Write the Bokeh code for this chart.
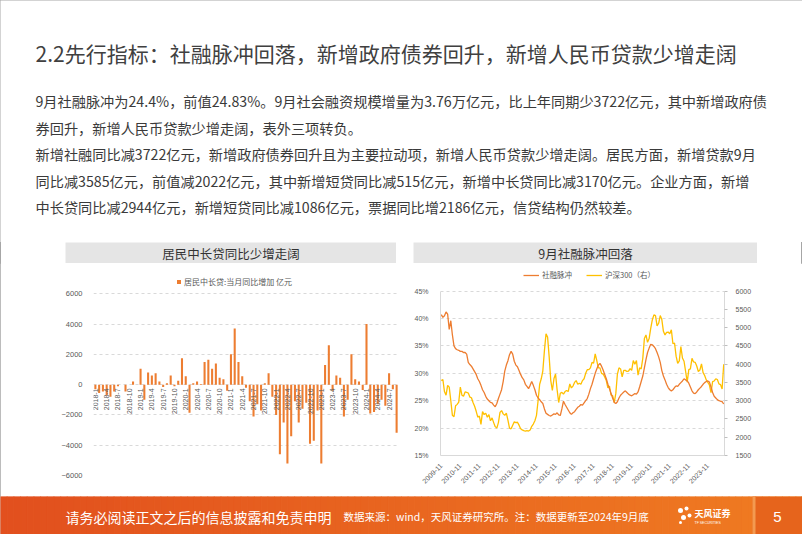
import numpy as np
from math import pi
from bokeh.plotting import figure
from bokeh.models import (Range1d, LinearAxis, FixedTicker, PrintfTickFormatter,
                          Legend, LegendItem, Spacer)
from bokeh.layouts import column, row
from bokeh.embed import file_html
from bokeh.resources import INLINE
from bokeh.core.properties import value

CJK = "Noto Sans CJK SC"
NUM = "Liberation Sans"
TXT = "#404040"
AX = "#595959"

# ---------------- texts ----------------
slide_title = "2.2先行指标：社融脉冲回落，新增政府债券回升，新增人民币贷款少增走阔"
body_lines = [
    "9月社融脉冲为24.4%，前值24.83%。9月社会融资规模增量为3.76万亿元，比上年同期少3722亿元，其中新增政府债",
    "券回升，新增人民币贷款少增走阔，表外三项转负。",
    "新增社融同比减3722亿元，新增政府债券回升且为主要拉动项，新增人民币贷款少增走阔。居民方面，新增贷款9月",
    "同比减3585亿元，前值减2022亿元，其中新增短贷同比减515亿元，新增中长贷同比减3170亿元。企业方面，新增",
    "中长贷同比减2944亿元，新增短贷同比减1086亿元，票据同比增2186亿元，信贷结构仍然较差。",
]
footer_left = "请务必阅读正文之后的信息披露和免责申明"
footer_src = "数据来源：wind，天风证券研究所。注：数据更新至2024年9月底"
logo_text = "天风证券"
logo_sub = "TF SECURITIES"
page_no = "5"

# ---------------- chart 1 data ----------------
chart1_title = "居民中长贷同比少增走阔"
chart1_series = "居民中长贷:当月同比增加 亿元"
loan_yoy = [
    # 2018
    -300, -550, -450, -700, -800, -450, -100, 0, -450, 0, 200, 0,
    # 2019
    1050, -1000, 800, 600, 750, 200, -150, 100, 600, -100, 250, 1750,
    # 2020
    550, -1850, 100, 200, 50, 1500, 1650, 1050, 1400, 450, 350, -400,
    # 2021
    2000, 3700, 1500, 550, -200, -1100, -2100, -1300, -1700, 100, 750, -800,
    # 2022
    -2000, -4600, -2500, -5200, -3400, -1100, -2500, -1600, -1200, -3900, -3700, -1700,
    # 2023
    -5200, 1300, 2600, -400, 600, 450, -2100, -1000, 2000, 350, 200, -350,
    # 2024
    4000, -1900, -1800, -1300, -1000, -1400, 750, -300, -3170,
]
loan_months = [f"{y}-{m}" for y in range(2018, 2025) for m in range(1, 13)][:len(loan_yoy)]
loan_ticks = [-6000, -4000, -2000, 0, 2000, 4000, 6000]

# ---------------- chart 2 data ----------------
chart2_title = "9月社融脉冲回落"
pulse_name = "社融脉冲"
hs_name = "沪深300（右）"
pulse = [
    40.7, 40.2, 40.5, 41.2, 40.8, 38.0, 39.6, 37.0, 35.0, 34.5,
    34.3, 34.2, 34.0, 34.0, 33.8, 33.8, 33.5, 32.0, 31.6, 31.3,
    30.8, 30.3, 29.8, 29.0, 28.5, 27.8, 27.0, 26.5, 25.8, 25.3,
    25.0, 24.7, 24.6, 24.2, 23.9, 24.5, 25.4, 26.2, 27.0, 28.5,
    30.4, 31.5, 32.3, 33.4, 34.0, 33.5, 32.2, 31.5, 31.2, 30.5,
    29.8, 29.2, 28.8, 28.0, 27.6, 27.2, 27.8, 28.5, 27.8, 27.0,
    26.0, 25.5, 25.2, 24.8, 24.5, 23.5, 22.7, 22.5, 22.3, 22.2,
    22.4, 22.6, 22.5, 22.8, 22.4, 22.3, 23.5, 24.9, 24.3, 23.8,
    23.3, 22.8, 22.5, 22.8, 23.0, 23.4, 23.8, 24.0, 24.3, 24.2,
    24.6, 25.0, 25.4, 26.2, 27.2, 28.0, 29.0, 30.0, 30.8, 31.5,
    31.8, 31.3, 30.6, 29.8, 29.0, 28.0, 27.2, 26.3, 25.5, 24.7,
    24.5, 24.8, 25.5, 26.0, 26.3, 26.6, 26.8, 26.5, 26.2, 26.0,
    25.9, 26.1, 26.3, 26.2, 26.6, 27.5, 28.5, 29.5, 31.0, 32.5,
    33.8, 34.6, 35.3, 35.2, 34.9, 34.5, 33.8, 33.0, 32.0, 30.5,
    29.5, 28.8, 28.0, 27.4, 27.0, 26.8, 27.0, 27.4, 27.7, 27.6,
    28.0, 28.3, 28.6, 29.0, 28.8, 28.6, 28.2, 27.5, 26.8, 26.4,
    26.3, 26.6, 27.0, 27.3, 27.6, 28.0, 28.3, 28.5, 28.6, 28.4,
    27.5, 26.5, 25.8, 25.5, 25.2, 25.0, 24.9, 24.83, 24.4,
]
hs300 = [
    3550, 3580, 3250, 3150, 3420, 3370, 3000, 2600, 2560, 2860,
    2900, 2960, 3370, 3150, 3120, 3240, 3230, 3210, 3100, 3080,
    2950, 2850, 2710, 2550, 2580, 2350, 2700, 2620, 2660, 2550,
    2620, 2450, 2530, 2400, 2290, 2250, 2400, 2680, 2730, 2640,
    2600, 2660, 2470, 2250, 2230, 2330, 2420, 2400, 2410, 2330,
    2230, 2200, 2180, 2170, 2180, 2170, 2200, 2300, 2360, 2450,
    2600, 3000, 3450, 3600, 3820, 4370, 4830, 4740, 4200, 3550,
    3280, 3600, 3730, 3300, 2950, 3200, 3230, 3180, 3250, 3280,
    3250, 3460, 3350, 3400, 3500, 3550, 3450, 3480, 3450, 3550,
    3600, 3750, 3850, 3850, 3900, 4050, 4030, 4280, 4100, 3900,
    3900, 3750, 3730, 3650, 3550, 3350, 3400, 3150, 3140, 2950,
    3200, 3730, 3900, 3870, 3650, 3830, 3830, 3800, 3810, 3880,
    3830, 4100, 4000, 4100, 3700, 3900, 3870, 4160, 4700, 4800,
    4600, 4700, 4980, 5210, 5350, 5330, 5050, 5120, 5330, 5220,
    4900, 4800, 4870, 4880, 4830, 4940, 4560, 4580, 4220, 4020,
    4090, 4480, 4170, 4080, 3800, 3510, 3850, 3870, 4160, 4060,
    4050, 3950, 3800, 3840, 4010, 3770, 3690, 3570, 3500, 3430,
    3220, 3520, 3540, 3600, 3580, 3460, 3440, 3320, 4000,
]
pulse_months = [f"{2009 + (10 + i) // 12}-{(10 + i) % 12 + 1}" for i in range(len(pulse))]
pct_ticks = [15, 20, 25, 30, 35, 40, 45]
hs_ticks = [1500, 2000, 2500, 3000, 3500, 4000, 4500, 5000, 5500, 6000]


def blank(w, h, xr, yr, bg="white"):
    f = figure(width=w, height=h, x_range=xr, y_range=yr, x_axis_type=None, y_axis_type=None,
               toolbar_location=None, output_backend="svg", min_border=0,
               background_fill_color=bg, border_fill_color=bg)
    f.outline_line_color = None
    return f


# ---------------- header ----------------
top = blank(802, 242, Range1d(0, 802), Range1d(242, 0))
top.text(x=[35], y=[52], text=[slide_title], text_font=value(CJK), text_font_size="21px",
         text_color=TXT, text_baseline="middle")
top.text(x=[35] * len(body_lines), y=[100, 127, 153, 180, 206], text=body_lines,
         text_font=value(CJK), text_font_size="14.2px", text_color="#3a3a3a",
         text_baseline="middle")


def title_bar(w, txt):
    f = blank(w, 21, Range1d(0, 1), Range1d(0, 1), bg="#e5e5e5")
    f.text(x=[0.5], y=[0.5], text=[txt], text_font=value(CJK), text_font_size="12.5px",
           text_color="#333333", text_align="center", text_baseline="middle")
    return f


tb1 = title_bar(331, chart1_title)
tb2 = title_bar(344, chart2_title)

# ---------------- chart 1 ----------------
# frame spans 263..475 px; the band above the 6000 gridline holds the legend
n1 = len(loan_yoy)
idx1 = list(range(n1))
c1 = figure(width=405, height=233, x_range=Range1d(-0.5, n1 - 0.5),
            y_range=Range1d(loan_ticks[0], 8000), x_axis_type=None,
            toolbar_location=None, output_backend="svg", frame_align=False,
            min_border_left=93, min_border_right=7, min_border_top=0, min_border_bottom=21)
c1.outline_line_color = None
c1.yaxis.ticker = FixedTicker(ticks=loan_ticks)
c1.ygrid.ticker = FixedTicker(ticks=loan_ticks)
c1.yaxis.axis_line_color = None
c1.yaxis.major_tick_line_color = None
c1.yaxis.minor_tick_line_color = None
c1.yaxis.major_label_text_font = NUM
c1.yaxis.major_label_text_font_size = "7.5px"
c1.yaxis.major_label_text_color = AX
c1.yaxis.major_label_standoff = 5
c1.ygrid.grid_line_color = "#d9d9d9"
c1.ygrid.grid_line_dash = "3 3"
bars = c1.vbar(x=idx1, top=loan_yoy, width=0.55, fill_color="#ED7D31", line_color=None)
c1.text(x=idx1[::3], y=[-250] * len(idx1[::3]), text=loan_months[::3], angle=pi / 2,
        text_align="right", text_baseline="middle", text_font=value(NUM),
        text_font_size="7px", text_color=AX)
leg1 = Legend(items=[LegendItem(label=chart1_series, renderers=[bars])],
              orientation="horizontal", location=(83, 188), border_line_color=None,
              background_fill_alpha=0, glyph_width=5, glyph_height=5, label_standoff=3,
              label_text_font=CJK, label_text_font_size="8px", label_text_color=AX,
              padding=0, margin=0, label_height=10)
c1.add_layout(leg1)

# ---------------- chart 2 ----------------
# frame spans 263..455 px; 45% / 6000 lie at 290.6 px
n2 = len(pulse)
idx2 = list(range(n2))
c2 = figure(width=397, height=233, x_range=Range1d(-0.5, n2 - 0.5),
            y_range=Range1d(pct_ticks[0], 50.04),
            toolbar_location=None, output_backend="svg", frame_align=False,
            min_border_left=35, min_border_right=78, min_border_top=0, min_border_bottom=41)
c2.outline_line_color = None
c2.extra_y_ranges = {"hs": Range1d(hs_ticks[0], 6756)}
r_hs = c2.line(x=idx2, y=hs300, line_color="#FFC000", line_width=1.3, y_range_name="hs")
r_pu = c2.line(x=idx2, y=pulse, line_color="#ED7D31", line_width=1.3)

c2.xaxis.ticker = FixedTicker(ticks=idx2[::12])
c2.xaxis.major_label_overrides = {i: pulse_months[i] for i in idx2[::12]}
c2.xaxis.major_label_orientation = pi / 4
c2.yaxis.ticker = FixedTicker(ticks=pct_ticks)
c2.ygrid.ticker = FixedTicker(ticks=pct_ticks)
c2.yaxis.formatter = PrintfTickFormatter(format="%d%%")
c2.yaxis.bounds = (pct_ticks[0], pct_ticks[-1])
c2.xgrid.grid_line_color = None
c2.ygrid.grid_line_color = "#d9d9d9"
c2.ygrid.grid_line_dash = "3 3"
ax_r = LinearAxis(y_range_name="hs", ticker=FixedTicker(ticks=hs_ticks),
                  bounds=(hs_ticks[0], hs_ticks[-1]))
c2.add_layout(ax_r, "right")
for ax in c2.axis:
    ax.axis_line_color = "#d9d9d9"
    ax.major_tick_line_color = None
    ax.minor_tick_line_color = None
    ax.major_label_text_font = NUM
    ax.major_label_text_font_size = "7px"
    ax.major_label_text_color = AX
c2.yaxis[0].major_label_standoff = 6
ax_r.major_tick_line_color = "#bfbfbf"
ax_r.major_tick_out = 3
ax_r.major_tick_in = 0
ax_r.major_label_standoff = 8
c2.xaxis.major_label_standoff = 3
leg2 = Legend(items=[LegendItem(label=pulse_name, renderers=[r_pu]),
                     LegendItem(label=hs_name, renderers=[r_hs])],
              orientation="horizontal", location=(83, 175), border_line_color=None,
              background_fill_alpha=0, glyph_width=16, glyph_height=6, label_standoff=3,
              spacing=14, label_text_font=CJK, label_text_font_size="7.5px",
              label_text_color=AX, padding=0, margin=0, label_height=9)
c2.add_layout(leg2)

# ---------------- footer ----------------
foot = blank(802, 38, Range1d(0, 802), Range1d(38, 0))
edges = np.linspace(0, 802, 121)
t = np.linspace(0, 1, 120)
c_left = np.array([226, 80, 30])
c_right = np.array([240, 124, 34])
grad = ["#%02x%02x%02x" % tuple((c_left + (c_right - c_left) * k).astype(int)) for k in t]
foot.quad(left=edges[:-1], right=edges[1:], top=0, bottom=38, fill_color=grad, line_color=grad)
foot.quad(left=[752], right=[802], top=[0], bottom=[38], fill_color="#e6641c", line_color=None)
foot.quad(left=[752], right=[755], top=[0], bottom=[38], fill_color="#f39a50", line_color=None)
foot.text(x=[65], y=[20], text=[footer_left], text_font=value(CJK), text_font_size="14px",
          text_color="white", text_baseline="middle")
foot.text(x=[343], y=[20], text=[footer_src], text_font=value(CJK), text_font_size="10.5px",
          text_color="white", text_baseline="middle")
foot.scatter(x=[680, 686, 683, 689, 680], y=[14, 12, 21, 19, 26], size=[5, 4, 5, 4, 3],
             fill_color="white", line_color=None)
foot.text(x=[694], y=[17], text=[logo_text], text_font=value(CJK), text_font_size="9px",
          text_font_style="bold", text_color="white", text_baseline="middle")
foot.text(x=[694], y=[26], text=[logo_sub], text_font=value(NUM), text_font_size="3.5px",
          text_color="white", text_baseline="middle")
foot.text(x=[777], y=[20], text=[page_no], text_font=value(NUM), text_font_size="15px",
          text_color="white", text_baseline="middle", text_align="center")

bar_row = row(Spacer(width=65, height=21), tb1, Spacer(width=17, height=21), tb2,
              Spacer(width=45, height=21))
layout = column(top, bar_row, row(c1, c2), foot,
                styles={"outline": "1px solid #a6a6a6", "outline-offset": "-1px"})

open("out.html", "w").write(file_html(layout, INLINE))
